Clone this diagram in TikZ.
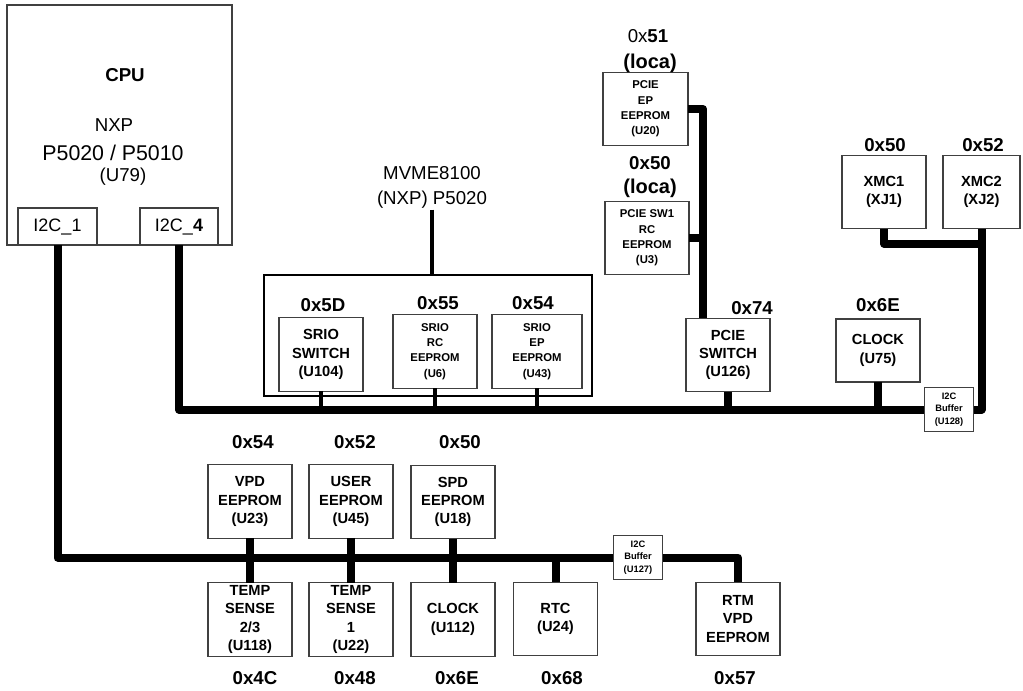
\documentclass[tikz,border=0pt]{standalone}
\usepackage{fontspec}
\setmainfont{Liberation Sans}
\tikzset{
  chip/.style={draw=black!75,line width=0.8pt,fill=white,align=center,
    inner sep=0pt,outer sep=0pt,minimum width=63pt,minimum height=55pt,
    font=\fontsize{11}{13.7}\selectfont\bfseries},
  smallchip/.style={chip,font=\fontsize{8.5}{11.5}\selectfont\bfseries},
  bufchip/.style={chip,minimum width=37pt,minimum height=33pt,
    font=\fontsize{7}{9.4}\selectfont\bfseries},
  addr/.style={font=\fontsize{14}{16}\selectfont\bfseries},
  bus/.style={line width=6pt,line join=round},
  stub/.style={line width=2.4pt},
}

\begin{document}
\begin{tikzpicture}[x=0.75pt,y=-0.75pt]
  \useasboundingbox (0,0) rectangle (1023,690);
  % CPU 与两路 I2C
  \node[draw=black!75,line width=0.8pt,minimum width=168.75pt,minimum height=180pt,
        inner sep=0pt,outer sep=0pt] (cpu) at (119.5,125) {};
  \node[font=\fontsize{14}{16}\selectfont\bfseries] (cputitle) at (125,75) {CPU};
  \node[font=\fontsize{14}{16}\selectfont] (cpunxp) at (114,125) {NXP};
  \node[font=\fontsize{16}{18}\selectfont] (cpupart) at (113,153) {P5020 / P5010};
  \node[font=\fontsize{14}{16}\selectfont] (cpuref) at (123,177) {(U79)};
  \node[draw=black!75,line width=0.8pt,minimum width=59.25pt,minimum height=27.75pt,
        inner sep=0pt,outer sep=0pt,font=\fontsize{13.5}{15}\selectfont]
        (i2c1) at (57.5,226.5) {I2C\_1};
  \node[draw=black!75,line width=0.8pt,minimum width=58.5pt,minimum height=27.75pt,
        inner sep=0pt,outer sep=0pt,font=\fontsize{13.5}{15}\selectfont]
        (i2c4) at (179,226.5) {I2C\_\textbf{4}};

  % SRIO 组
  \node[font=\fontsize{14}{18.75}\selectfont,align=center,inner sep=1pt]
        (mvme) at (432,187) {MVME8100\\(NXP) P5020};
  \node[draw,line width=2pt,minimum width=246pt,minimum height=90.75pt,
        inner sep=0pt,outer sep=0pt] (srio) at (428,335.5) {};
  \node[chip] (srsw) at (321,354.5) {SRIO\\SWITCH\\(U104)};
  \node[smallchip] (srrc) at (435,351.5) {SRIO\\RC\\EEPROM\\(U6)};
  \node[smallchip,minimum width=67.5pt] (srep) at (537,351.5) {SRIO\\EP\\EEPROM\\(U43)};
  \node[addr] (a5d) at (323,305) {0x5D};
  \node[addr] (a55) at (438,303) {0x55};
  \node[addr] (a54s) at (533,303) {0x54};

  % PCIE
  \node[smallchip,minimum width=63.75pt] (pciep) at (645.5,109) {PCIE\\EP\\EEPROM\\(U20)};
  \node[smallchip] (pcisw1) at (647,238) {PCIE SW1\\RC\\EEPROM\\(U3)};
  \node[chip] (pcisw) at (728,355) {PCIE\\SWITCH\\(U126)};
  \node[addr] (a51) at (648,36) {{\mdseries 0x}51};
  \node[font=\fontsize{15}{17}\selectfont\bfseries] (loca1) at (650,63) {(loca)};
  \node[addr] (a50p) at (650,163) {0x50};
  \node[font=\fontsize{15}{17}\selectfont\bfseries] (loca2) at (650,188) {(loca)};
  \node[addr] (a74) at (752,308) {0x74};

  % XMC 与时钟
  \node[chip] (xmc1) at (884,192) {XMC1\\(XJ1)};
  \node[chip,minimum width=57.75pt] (xmc2) at (981.5,192) {XMC2\\(XJ2)};
  \node[chip,minimum height=47.25pt] (clk75) at (878,350.5) {CLOCK\\(U75)};
  \node[bufchip] (buf128) at (949,409.5) {I2C\\Buffer\\(U128)};
  \node[addr] (a50x) at (885,145) {0x50};
  \node[addr] (a52x) at (983,145) {0x52};
  \node[addr] (a6eu) at (878,305) {0x6E};

  % 下方总线上的器件
  \node[chip] (vpd) at (250,501.5) {VPD\\EEPROM\\(U23)};
  \node[chip] (user) at (351,501.5) {USER\\EEPROM\\(U45)};
  \node[chip] (spd) at (453,502) {SPD\\EEPROM\\(U18)};
  \node[chip] (temp23) at (250,619.5) {TEMP\\SENSE\\2/3\\(U118)};
  \node[chip] (temp1) at (351,619.5) {TEMP\\SENSE\\1\\(U22)};
  \node[chip] (clk112) at (453,619.5) {CLOCK\\(U112)};
  \node[chip] (rtc) at (555.5,619) {RTC\\(U24)};
  \node[bufchip] (buf127) at (638,557.5) {I2C\\Buffer\\(U127)};
  \node[chip] (rtm) at (738,619) {RTM\\VPD\\EEPROM};
  \node[addr] (a54) at (253,442) {0x54};
  \node[addr] (a52) at (355,442) {0x52};
  \node[addr] (a50) at (460,442) {0x50};
  \node[addr] (a4c) at (255,678) {0x4C};
  \node[addr] (a48) at (355,678) {0x48};
  \node[addr] (a6e) at (457,678) {0x6E};
  \node[addr] (a68) at (562,678) {0x68};
  \node[addr] (a57) at (735,678) {0x57};

  % 总线
  \draw[bus] (i2c1.south) |- (buf127.west);
  \draw[bus] (buf127.east) -| (rtm.north);
  \draw[bus] (vpd.south) -- (temp23.north);
  \draw[bus] (user.south) -- (temp1.north);
  \draw[bus] (spd.south) -- (clk112.north);
  \draw[bus] (rtc.north) -- (rtc.north |- buf127.west);

  \draw[bus] (i2c4.south) |- (buf128.west);
  \draw[bus] (buf128.east) -| (xmc2.south);
  \draw[bus] (xmc1.south) -- ++(0,15) -| (xmc2.south);
  \draw[bus] (clk75.south) -- (clk75.south |- buf128.west);
  \draw[bus] (pcisw.south) -- (pcisw.south |- buf128.west);
  \coordinate (pcitap) at ([xshift=12.75pt]pcisw.north west);
  \draw[bus] (pciep.east) -| (pcitap);
  \draw[bus] (pcisw1.east) -- (pcitap |- pcisw1.east);

  \draw[stub] (srsw.south) -- (srsw.south |- buf128.west);
  \draw[stub] (srrc.south) -- (srrc.south |- buf128.west);
  \draw[stub] (srep.south) -- (srep.south |- buf128.west);
  \draw[stub] (mvme.south) -- (mvme.south |- srio.north);
\end{tikzpicture}
\end{document}
